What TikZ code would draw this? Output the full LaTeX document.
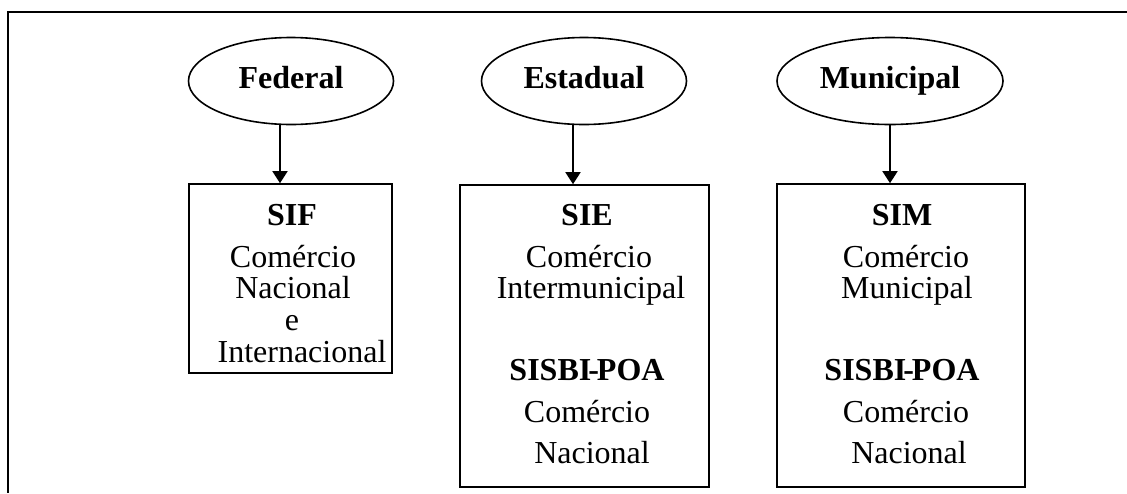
\documentclass[tikz,border=0pt]{standalone}
\usepackage{fontspec}
\setmainfont{Liberation Serif}
\usetikzlibrary{shapes.geometric,arrows.meta}

\begin{document}
\begin{tikzpicture}[
    x=1pt, y=-1pt,
    esfera/.style={draw, ellipse, line width=1.6pt, inner sep=0pt, minimum height=87pt,
      text height=14pt, text depth=0pt, font=\fontsize{32}{32}\selectfont\bfseries},
    caixa/.style={draw, rectangle, line width=1.6pt, inner sep=0pt},
    linha/.style={anchor=base, inner sep=0pt, font=\fontsize{32}{32}\selectfont},
    titulo/.style={linha, font=\fontsize{32}{32}\selectfont\bfseries},
    seta/.style={line width=1.6pt, -{Triangle[length=12pt,width=15pt]}},
  ]
  \useasboundingbox (0,0) rectangle (1127,493);
  \draw[line width=2pt] (1127,12) -- (8,12) -- (8,493);

  \node[esfera, minimum width=205pt] (fed) at (291,81) {Federal};
  \node[esfera, minimum width=205pt] (est) at (584,81) {Estadual};
  \node[esfera, minimum width=226pt] (mun) at (890,81) {Municipal};

  \node[caixa, minimum width=203pt, minimum height=189pt] (sif) at (290.5,278.5) {};
  \node[caixa, minimum width=249pt, minimum height=302pt] (sie) at (584.5,336) {};
  \node[caixa, minimum width=248pt, minimum height=303pt] (sim) at (901,335.5) {};

  \node[titulo] (sif1) at (292,225) {SIF};
  \node[linha]  (sif2) at (293,267) {Comércio};
  \node[linha]  (sif3) at (293,298) {Nacional};
  \node[linha]  (sif4) at (292,330) {e};
  \node[linha]  (sif5) at (302,362) {Internacional};

  \node[titulo] (sie1) at (587,225) {SIE};
  \node[linha]  (sie2) at (589,267) {Comércio};
  \node[linha]  (sie3) at (591,298) {Intermunicipal};
  \node[titulo] (sie4) at (587,380) {SISBI\kern-3pt-\kern-2pt POA};
  \node[linha]  (sie5) at (587,422) {Comércio};
  \node[linha]  (sie6) at (592,463) {Nacional};

  \node[titulo] (sim1) at (902,225) {SIM};
  \node[linha]  (sim2) at (906,267) {Comércio};
  \node[linha]  (sim3) at (907,298) {Municipal};
  \node[titulo] (sim4) at (902,380) {SISBI\kern-3pt-\kern-2pt POA};
  \node[linha]  (sim5) at (906,422) {Comércio};
  \node[linha]  (sim6) at (909,463) {Nacional};

  \draw[seta] ([xshift=-11pt]fed.south) -- ([xshift=-11pt]fed.south |- sif.north);
  \draw[seta] ([xshift=-11pt]est.south) -- ([xshift=-11pt]est.south |- sie.north);
  \draw[seta] (mun.south) -- (mun.south |- sim.north);
\end{tikzpicture}
\end{document}
